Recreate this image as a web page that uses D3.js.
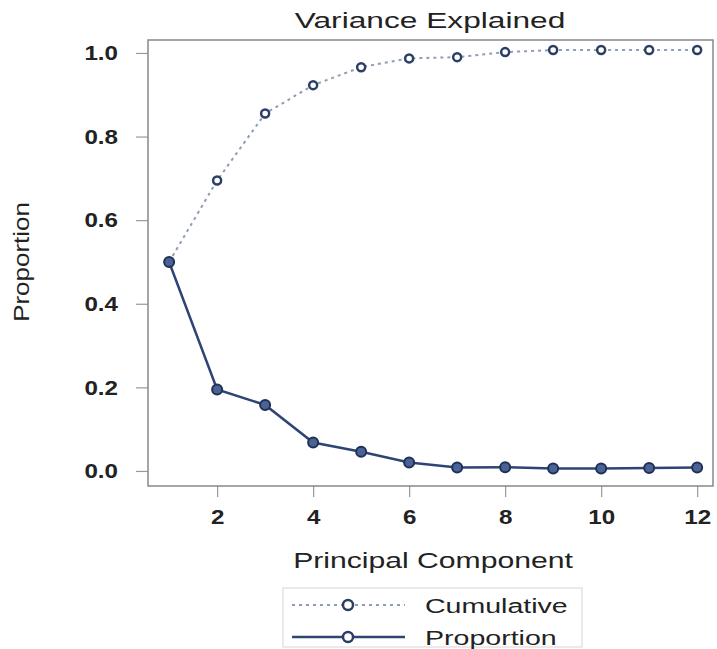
<!DOCTYPE html>
<html>
<head>
<meta charset="utf-8">
<script src="https://cdn.jsdelivr.net/npm/d3@7"></script>
<style>
  body { margin: 0; background: #fff; }
  svg text { font-family: "Liberation Sans", Arial, sans-serif; fill: #222; }
</style>
</head>
<body>
<div id="chart"></div>
<script>
// 数据
const components = [1, 2, 3, 4, 5, 6, 7, 8, 9, 10, 11, 12];
const cumulative = [0.50, 0.695, 0.855, 0.923, 0.966, 0.987, 0.990, 1.002, 1.007, 1.007, 1.007, 1.007];
const proportion = [0.50, 0.195, 0.158, 0.068, 0.046, 0.020, 0.008, 0.009, 0.006, 0.006, 0.007, 0.008];
const xTicks = [2, 4, 6, 8, 10, 12];
const yTicks = [0, 0.2, 0.4, 0.6, 0.8, 1.0];

const width = 717, height = 649;
const margin = {top: 40, right: 4, bottom: 163, left: 148};
const plotW = width - margin.left - margin.right,
      plotH = height - margin.top - margin.bottom;

const svg = d3.select('#chart')
  .append('svg')
  .attr('width', width)
  .attr('height', height);

// 比例尺
const x = d3.scaleLinear().domain([0.56, 12.33]).range([0, plotW]);
const y = d3.scaleLinear().domain([-0.036, 1.031]).range([plotH, 0]);

const g = svg.append('g')
  .attr('transform', `translate(${margin.left},${margin.top})`);

// 横向拉伸的文字
function stretchedText(parent, tx, ty, str, size, sx, anchor, rot) {
  return parent.append('text')
    .attr('transform', `translate(${tx},${ty})` + (rot ? ` rotate(${rot})` : '') + ` scale(${sx},1)`)
    .attr('text-anchor', anchor || 'middle')
    .style('font-size', size + 'px')
    .text(str);
}

// 坐标轴
const xAxis = g.append('g')
  .attr('transform', `translate(0,${plotH})`)
  .call(d3.axisBottom(x).tickValues(xTicks).tickSize(11).tickPadding(12).tickFormat(d3.format('d')));
const yAxis = g.append('g')
  .call(d3.axisLeft(y).tickValues(yTicks).tickSize(12).tickPadding(18).tickFormat(d3.format('.1f')));

[xAxis, yAxis].forEach(a => {
  a.select('.domain').remove();
  a.selectAll('.tick line').attr('stroke', '#999').attr('stroke-width', 1.2);
  a.selectAll('.tick text')
    .style('font-size', '21px')
    .style('font-weight', 'bold')
    .style('font-family', '"Liberation Sans", Arial, sans-serif')
    .attr('fill', '#2a2a2a');
});
xAxis.selectAll('.tick text').attr('transform', 'scale(1.15,1)');
yAxis.selectAll('.tick text').each(function() {
  const t = d3.select(this);
  t.attr('transform', `translate(${t.attr('x')},0) scale(1.15,1)`).attr('x', 0);
});

// 边框
g.append('rect')
  .attr('x', 0).attr('y', 0)
  .attr('width', plotW).attr('height', plotH)
  .attr('fill', 'none')
  .attr('stroke', '#888')
  .attr('stroke-width', 1.5);

const line = d3.line()
  .x((d, i) => x(components[i]))
  .y(d => y(d));

// 累计线（虚线）
g.append('path')
  .datum(cumulative)
  .attr('d', line)
  .attr('fill', 'none')
  .attr('stroke', '#8e9db6')
  .attr('stroke-width', 2)
  .attr('stroke-dasharray', '3,4');

// 比例线
g.append('path')
  .datum(proportion)
  .attr('d', line)
  .attr('fill', 'none')
  .attr('stroke', '#2e4573')
  .attr('stroke-width', 2.5);

g.selectAll('.cum')
  .data(cumulative)
  .enter().append('circle')
  .attr('class', 'cum')
  .attr('cx', (d, i) => x(components[i]))
  .attr('cy', d => y(d))
  .attr('r', 4)
  .attr('fill', '#fff')
  .attr('stroke', '#2c3e66')
  .attr('stroke-width', 2.5);

g.selectAll('.prop')
  .data(proportion)
  .enter().append('circle')
  .attr('class', 'prop')
  .attr('cx', (d, i) => x(components[i]))
  .attr('cy', d => y(d))
  .attr('r', 5)
  .attr('fill', '#4a6294')
  .attr('stroke', '#1f3158')
  .attr('stroke-width', 2);

// 标题和轴标签
stretchedText(svg, 430, 28, 'Variance Explained', 22, 1.44);
stretchedText(svg, 433, 568, 'Principal Component', 22, 1.37);
stretchedText(svg, 29, 262, 'Proportion', 22, 1.18, 'middle', -90);

// 图例
const legend = svg.append('g');
legend.append('rect')
  .attr('x', 283).attr('y', 588)
  .attr('width', 299).attr('height', 59)
  .attr('fill', 'none')
  .attr('stroke', '#ddd')
  .attr('stroke-width', 1.2);

const legendItems = [
  {name: 'Cumulative', dash: '3,4', color: '#8e9db6', mfill: '#fff', mstroke: '#2c3e66', cy: 605},
  {name: 'Proportion', dash: null, color: '#2e4573', mfill: '#fff', mstroke: '#2c3e66', cy: 637}
];
legendItems.forEach(item => {
  legend.append('line')
    .attr('x1', 292).attr('x2', 405)
    .attr('y1', item.cy).attr('y2', item.cy)
    .attr('stroke', item.color)
    .attr('stroke-width', item.dash ? 2 : 2.5)
    .attr('stroke-dasharray', item.dash);
  legend.append('circle')
    .attr('cx', 348).attr('cy', item.cy)
    .attr('r', 5)
    .attr('fill', item.mfill)
    .attr('stroke', item.mstroke)
    .attr('stroke-width', 2.5);
  stretchedText(legend, 425, item.cy + 7.5, item.name, 21, 1.36, 'start');
});
</script>
</body>
</html>
